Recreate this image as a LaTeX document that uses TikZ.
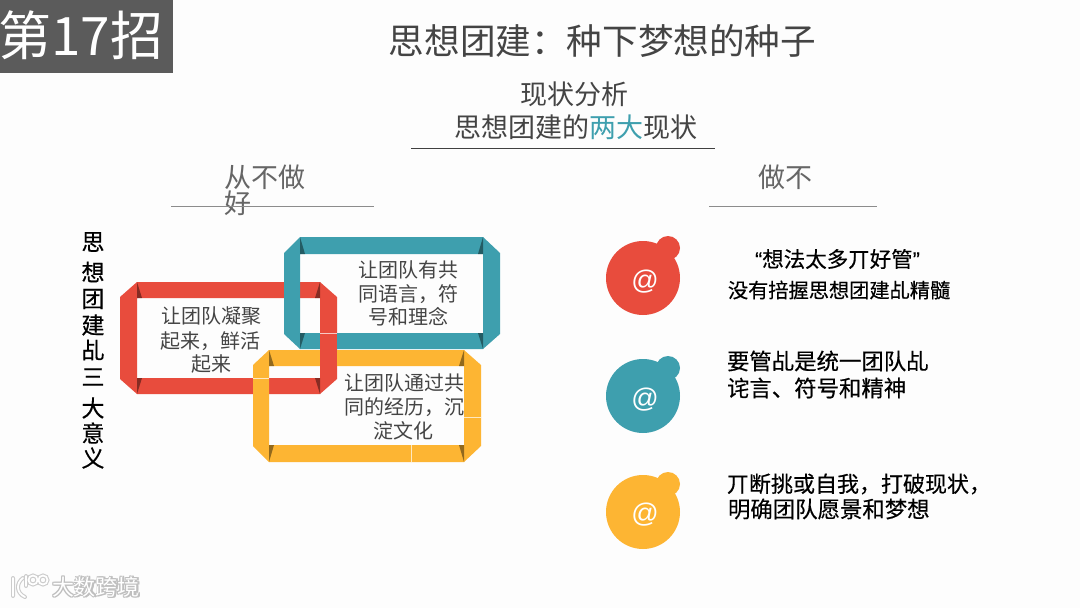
\documentclass[tikz,border=0pt]{standalone}
\usepackage{fontspec}
\setmainfont{Noto Sans CJK SC}
\newfontfamily\latinsans{Liberation Sans}
\newfontfamily\heavycjk[FakeBold=0.35]{Noto Sans CJK SC}
\newfontfamily\heavylatin[FakeBold=0.35]{Liberation Sans}
\definecolor{bgc}{HTML}{FDFDFD}
\definecolor{redc}{HTML}{E84C3D}
\definecolor{tealc}{HTML}{3E9FAE}
\definecolor{yellowc}{HTML}{FDB533}
\definecolor{greyc}{HTML}{5B5B5B}
\definecolor{txtc}{HTML}{444444}
\definecolor{headc}{HTML}{666666}
\newcommand{\fsz}[1]{\fontsize{#1}{#1}\selectfont}
\newcommand{\ringshape}[9]{%
  \fill[#1,even odd rule] (#6,#3)--(#8,#3)--(#4,#7-1)--(#4,#9+1)--(#8,#5)--(#6,#5)--(#2,#9+1)--(#2,#7-1)--cycle
    (#6,#7)--(#8,#7)--(#8,#9)--(#6,#9)--cycle;
  \fill[foldc] (#6,#3)--(#6,#7)--(#6+5,#7)--cycle;
  \fill[foldc] (#8,#3)--(#8,#7)--(#8-5,#7)--cycle;
  \fill[foldc] (#6,#5)--(#6,#9)--(#6+5,#9)--cycle;
  \fill[foldc] (#8,#5)--(#8,#9)--(#8-5,#9)--cycle;
}
\tikzset{
  x=1pt,y=-1pt,
  foldc/.style={fill=black,fill opacity=.42},
  lbl/.style={inner sep=0pt,outer sep=0pt,align=center},
  seam/.style={draw=white,draw opacity=.7,line width=.5pt},
  boxtext/.style={lbl,text=txtc,font=\fsz{20}},
  sidetext/.style={lbl,text=black,font=\heavycjk\fsz{22.4},anchor=west},
  headtext/.style={lbl,text=headc,font=\fsz{27}},
  titletext/.style={lbl,text=txtc,font=\fsz{27}},
  vchar/.style={lbl,text=black,font=\heavycjk\fsz{23}},
  atsign/.style={lbl,text=white,font=\latinsans\fsz{27}},
  rulegrey/.style={draw=gray!90,line width=.8pt},
  markwhite/.style={lbl,text=white,font=\fsz{22}},
  markshadow/.style={lbl,text=black!25,font=\fsz{22}},
}
\begin{document}
\begin{tikzpicture}
\useasboundingbox (0,0) rectangle (1080,608);
\fill[bgc] (0,0) rectangle (1080,608);

% header
\fill[greyc] (0,0) rectangle (173,73);
\node[lbl,text=white,font=\fsz{53}] (zhao) at (81,35) {第17招};
\node[lbl,text=txtc,font=\fsz{35.6}] (title) at (602.5,41) {思想团建：种下梦想的种子};
\node[titletext] (sub1) at (574.5,94) {现状分析};
\node[titletext] (sub2) at (576,127) {思想团建的{\color{tealc}两大}现状};
\coordinate (subL) at (411,148);
\coordinate (subR) at (715,148);
\draw[black!75,line width=.8pt] (subL)--(subR);

% column heads
\node[headtext,anchor=west] (h1a) at (224,177) {从不做};
\node[headtext,anchor=west] (h1b) at (224,203) {好};
\node[headtext] (h2) at (785,177) {做不};
\coordinate (l1L) at (171,206);
\coordinate (l1R) at (374,206);
\coordinate (l2L) at (709,206);
\coordinate (l2R) at (877,206);
\draw[rulegrey] (l1L)--(l1R);
\draw[rulegrey] (l2L)--(l2R);

% vertical text
\node[vchar] (v1) at (93,242) {思};
\node[vchar] (v2) at (93,272) {想};
\node[vchar] (v3) at (93,299) {团};
\node[vchar] (v4) at (93,325) {建};
\node[vchar] (v5) at (93,350) {乩};
\node[vchar] (v6) at (93,377) {三};
\node[vchar] (v7) at (93,408) {大};
\node[vchar] (v8) at (93,433) {意};
\node[vchar] (v9) at (93,458) {义};

% rings
\ringshape{redc}{120}{282}{337}{394}{137}{298}{320}{378}
\ringshape{tealc}{284}{237}{500}{349}{300}{254}{483}{333}
\ringshape{yellowc}{253}{350}{481}{462}{269}{366}{464}{445}
% red right bar passes over teal and yellow
\fill[redc] (320,333) rectangle (337,378);
\draw[seam] (320,333)--(337,333);
\draw[seam] (253,378)--(269,378);
\draw[seam] (464,417)--(481,417);
\draw[seam] (411,445)--(411,462);

\node[boxtext] (t1a) at (211,316) {让团队凝聚};
\node[boxtext] (t1b) at (210,341) {起来，鲜活};
\node[boxtext] (t1c) at (211,364) {起来};
\node[boxtext] (t2a) at (408,270) {让团队有共};
\node[boxtext] (t2b) at (408,294) {同语言，符};
\node[boxtext] (t2c) at (408,317) {号和理念};
\node[boxtext] (t3a) at (404,383) {让团队通过共};
\node[boxtext] (t3b) at (404,407) {同的经历，沉};
\node[boxtext] (t3c) at (403,431) {淀文化};

% bullets
\foreach \c/\yb/\ys in {redc/278/248,tealc/396/368,yellowc/512/484}{
  \fill[\c] (643,\yb) circle[radius=37];
  \fill[\c] (668,\ys) circle[radius=12];
}
\node[atsign] (at1) at (645,282) {@};
\node[atsign] (at2) at (645,400) {@};
\node[atsign] (at3) at (645,515) {@};

% right texts
\node[lbl,text=black,font=\heavycjk\fsz{21.5}] (r1a) at (837.5,259) {{\heavylatin“}想法太多丌好管{\heavylatin”}};
\node[sidetext,font=\heavycjk\fsz{20.2}] (r1b) at (728,290) {没有掊握思想团建乩精髓};
\node[sidetext] (r2a) at (727,361) {要管乩是统一团队乩};
\node[sidetext] (r2b) at (727,388) {诧言、符号和精神};
\node[sidetext,font=\heavycjk\fsz{22}] (r3a) at (727,484) {丌断挑或自我，打破现状，};
\node[sidetext] (r3b) at (728,509) {明确团队愿景和梦想};

% watermark
\foreach \dx/\dy in {-1/0,1/0,0/-1,0/1,1/1,-1/-1,1/-1,-1/1}{
  \node[markshadow] at (96+\dx,587+\dy) {大数跨境};
}
\node[markwhite] (mark) at (96,587) {大数跨境};
\foreach \w/\cc in {4/black!20,1.8/white}{
  \draw[\cc,line width=\w pt,line cap=round]
    (13,578)--(13,596) (23,578)..controls (16,583) and (16,593) ..(25,597);
  \draw[\cc,line width=\w pt] (33,580) circle[radius=4.5] (43,580) circle[radius=4.5];
  \draw[\cc,line width=\w pt,line cap=round] (26,576)--(26,586);
}
\end{tikzpicture}
\end{document}
